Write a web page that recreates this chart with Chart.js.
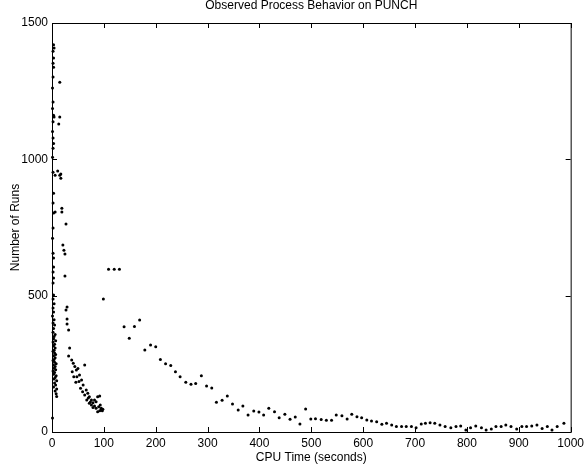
<!DOCTYPE html>
<html>
<head>
<meta charset="utf-8">
<script src="https://cdn.jsdelivr.net/npm/chart.js@4/dist/chart.umd.min.js"></script>
<style>
  html, body { margin: 0; padding: 0; background: #fff; }
  #wrap { width: 588px; height: 465px; }
</style>
</head>
<body>
<div id="wrap"><canvas id="runsChart"></canvas></div>
<script>
// runs piled up right next to the axis (very short jobs)
const shortTimes = [3, 4, 2, 3, 2, 3, 2, 1, 2, 1, 3, 4, 2, 1, 2, 3, 2, 1, 2, 6, 3, 2, 6, 3, 2, 1, 2, 3, 3, 2, 3, 2,
  3, 2, 4, 2, 3, 1, 4, 2, 5, 3, 2, 6, 4, 3, 7, 2, 5, 3, 6, 4, 2, 5, 7, 3, 6, 4, 2, 5, 8, 3, 6, 4, 7, 2, 5, 3, 8, 6, 4, 9, 5, 7, 3, 9, 6, 8, 9, 1];
const shortRuns = [1420, 1408, 1396, 1372, 1352, 1338, 1302, 1262, 1210, 1186, 1162, 1155, 1138, 1102, 1078, 1058, 1041, 1008, 953, 942, 876, 840, 807, 803, 748, 711, 656, 638, 605, 587, 565, 546,
  502, 488, 470, 455, 440, 425, 412, 400, 392, 380, 366, 358, 350, 342, 335, 330, 322, 315, 308, 300, 296, 290, 284, 280, 272, 266, 262, 256, 250, 246, 240, 234, 228, 224, 218, 212, 206, 200, 194, 188, 180, 172, 165, 158, 150, 140, 130, 51];

// 10-35 s
const midTimes = [15, 15, 13, 11, 15, 17, 17, 19, 19, 27, 21, 23, 25, 25, 29, 27, 29, 29, 32, 34, 32];
const midRuns = [1283, 1155, 1130, 957, 942, 946, 931, 821, 807, 763, 686, 667, 653, 572, 458, 447, 414, 396, 374, 308, 279];

// 35-100 s
const curveTimes = [38, 41, 44, 39, 47, 50, 42, 48, 53, 46, 52, 57, 60, 55, 63, 59, 66, 63, 69, 72, 67, 76, 79, 82, 72, 85, 88, 93, 90, 82, 85, 95, 97, 92, 88, 79, 76, 98, 92, 95, 70, 74];
const curveRuns = [264, 252, 240, 221, 227, 233, 203, 203, 209, 182, 185, 191, 172, 160, 246, 148, 154, 136, 142, 129, 117, 117, 107, 117, 105, 111, 129, 99, 93, 95, 87, 87, 78, 78, 74, 90, 99, 83, 132, 84, 125, 110];

// 100-1000 s, roughly one point per 10 s
const tailTimes = [99, 109, 120, 130, 139, 149, 159, 169, 179, 190, 200, 209, 219, 229, 238, 247, 258, 268, 277, 288,
  298, 308, 317, 328, 338, 348, 359, 368, 378, 389, 399, 408, 418, 429, 438, 449, 459, 469, 478, 489,
  499, 508, 519, 529, 539, 548, 559, 569, 578, 588, 597, 607, 616, 626, 636, 645, 655, 664, 674, 683,
  693, 702, 712, 720, 729, 738, 748, 758, 769, 779, 788, 798, 807, 817, 828, 837, 847, 856, 866, 875,
  885, 896, 906, 915, 925, 935, 945, 955, 964, 974, 987];
const tailRuns = [488, 597, 597, 597, 386, 344, 387, 411, 301, 319, 313, 266, 250, 244, 221, 203, 182, 175, 178, 206,
  169, 161, 109, 116, 132, 103, 81, 95, 62, 77, 73, 62, 87, 74, 52, 65, 47, 55, 29, 84,
  48, 49, 46, 43, 43, 62, 60, 48, 65, 56, 52, 44, 40, 38, 28, 32, 26, 20, 20, 20,
  20, 16, 29, 32, 34, 32, 26, 20, 16, 20, 22, 7, 16, 22, 16, 7, 11, 20, 20, 26,
  20, 11, 20, 20, 22, 26, 13, 20, 7, 20, 32];

const xTicks = [0, 100, 200, 300, 400, 500, 600, 700, 800, 900, 1000];
const yTicks = [0, 500, 1000, 1500];

function toPoints(xs, ys) {
  return xs.map((x, i) => ({ x: x, y: ys[i] }));
}

const allPoints = []
  .concat(toPoints(shortTimes, shortRuns))
  .concat(toPoints(midTimes, midRuns))
  .concat(toPoints(curveTimes, curveRuns))
  .concat(toPoints(tailTimes, tailRuns));

const FONT = "'Liberation Sans', Arial, Helvetica, sans-serif";

// box around the plot with inward tick marks, plus the title
const framePlugin = {
  id: 'frame',
  afterDraw(chart) {
    const ctx = chart.ctx;
    const a = chart.chartArea;
    const xs = chart.scales.x;
    const ys = chart.scales.y;
    ctx.save();
    ctx.strokeStyle = '#000';
    ctx.lineWidth = 1;
    ctx.strokeRect(a.left + 0.5, a.top + 0.5, a.right - a.left, a.bottom - a.top);
    ctx.beginPath();
    xTicks.forEach(v => {
      const px = Math.round(xs.getPixelForValue(v)) + 0.5;
      ctx.moveTo(px, a.bottom); ctx.lineTo(px, a.bottom - 5);
      ctx.moveTo(px, a.top); ctx.lineTo(px, a.top + 5);
    });
    yTicks.forEach(v => {
      const py = Math.round(ys.getPixelForValue(v)) + 0.5;
      ctx.moveTo(a.left, py); ctx.lineTo(a.left + 5, py);
      ctx.moveTo(a.right, py); ctx.lineTo(a.right - 5, py);
    });
    ctx.stroke();
    ctx.fillStyle = '#000';
    ctx.font = '12px ' + FONT;
    ctx.textAlign = 'center';
    ctx.textBaseline = 'middle';
    ctx.fillText('Observed Process Behavior on PUNCH', (a.left + a.right) / 2, 6);
    ctx.restore();
  }
};

new Chart(document.getElementById('runsChart'), {
  type: 'scatter',
  data: {
    datasets: [{
      label: 'Runs',
      data: allPoints,
      backgroundColor: '#000',
      borderWidth: 0,
      pointRadius: 1.5,
      pointHoverRadius: 1.5
    }]
  },
  options: {
    responsive: true,
    maintainAspectRatio: false,
    animation: false,
    clip: false,
    layout: { padding: { top: 23, right: 12, left: 0, bottom: 0 } },
    plugins: {
      legend: { display: false },
      tooltip: { enabled: false }
    },
    scales: {
      x: {
        type: 'linear',
        min: 0,
        max: 1000,
        afterFit: s => { s.height = 33; },
        afterBuildTicks: s => { s.ticks = xTicks.map(v => ({ value: v })); },
        grid: { display: false, drawTicks: false },
        border: { display: false },
        ticks: { color: '#000', font: { family: FONT, size: 12 }, padding: 4, maxRotation: 0, callback: v => String(v) },
        title: { display: true, text: 'CPU Time (seconds)', color: '#000', font: { family: FONT, size: 12 }, padding: { top: 0, bottom: 0 } }
      },
      y: {
        type: 'linear',
        min: 0,
        max: 1500,
        afterFit: s => { s.width = 52; },
        afterBuildTicks: s => { s.ticks = yTicks.map(v => ({ value: v })); },
        grid: { display: false, drawTicks: false },
        border: { display: false },
        ticks: { color: '#000', font: { family: FONT, size: 12 }, padding: 4, callback: v => String(v) },
        title: { display: true, text: 'Number of Runs', color: '#000', font: { family: FONT, size: 12 }, padding: { top: 8, bottom: 0 } }
      }
    }
  },
  plugins: [framePlugin]
});
</script>
</body>
</html>
